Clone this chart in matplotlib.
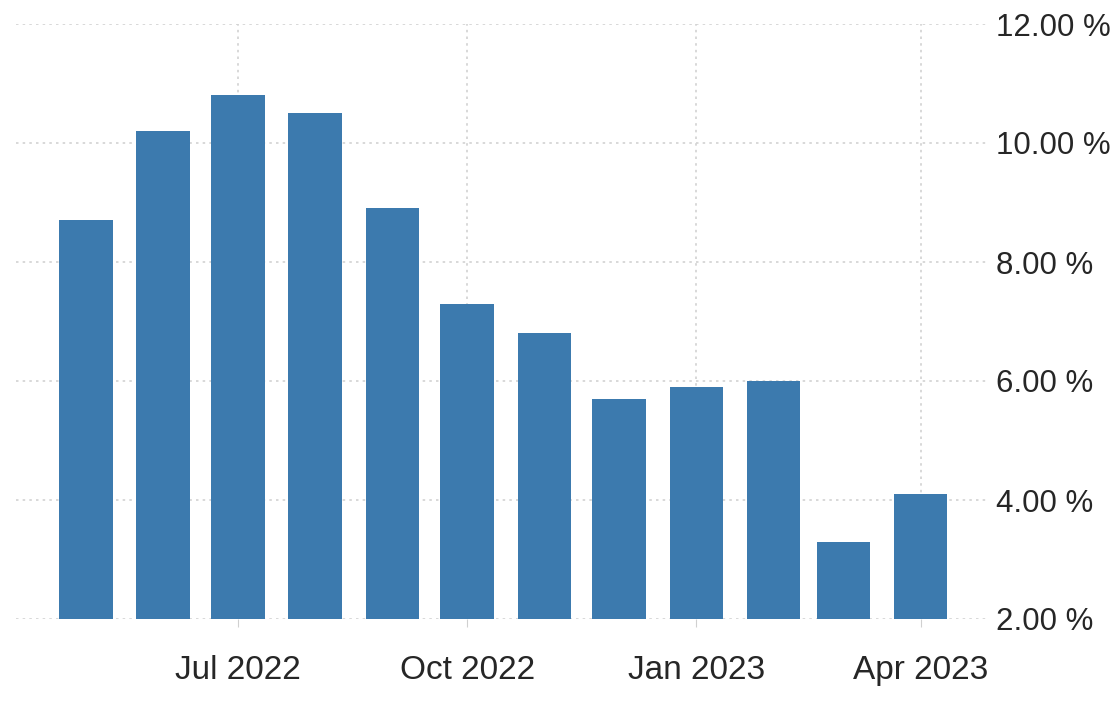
import matplotlib.pyplot as plt
import matplotlib.dates as mdates
import pandas as pd

# monthly inflation rate, %
months = ["2022-05", "2022-06", "2022-07", "2022-08", "2022-09", "2022-10",
          "2022-11", "2022-12", "2023-01", "2023-02", "2023-03", "2023-04"]
rates = [8.7, 10.2, 10.8, 10.5, 8.9, 7.3, 6.8, 5.7, 5.9, 6.0, 3.3, 4.1]
yticks = [2, 4, 6, 8, 10, 12]
xticks = ["2022-07-01", "2022-10-01", "2023-01-01", "2023-04-01"]

dates = pd.to_datetime(months)
base = 2.0

plt.rcParams['font.family'] = ['Liberation Sans', 'DejaVu Sans']

fig = plt.figure(figsize=(11.18, 7.1), dpi=100)
ax = fig.add_axes([16 / 1118, (710 - 619) / 710, (988 - 16) / 1118, (619 - 24) / 710])

ax.bar(dates, [r - base for r in rates], bottom=base, width=21.5,
       color='#3c7aae', zorder=3)

ax.set_ylim(2, 12)
ax.set_xlim(pd.Timestamp("2022-04-03"), pd.Timestamp("2023-04-28"))

ax.set_yticks(yticks)
ax.set_yticklabels(["%.2f %%" % v for v in yticks])
ax.yaxis.tick_right()
ax.tick_params(axis='y', length=0, pad=6, labelsize=22.5, labelcolor='#262626')

ax.set_xticks(pd.to_datetime(xticks))
ax.xaxis.set_major_formatter(mdates.DateFormatter('%b %Y'))
ax.tick_params(axis='x', length=6, color='#d0d0d0', pad=20,
               labelsize=24, labelcolor='#262626')

ax.grid(True, linestyle=(0, (1.5, 2.5)), color='#d2d2d2', linewidth=1.2, zorder=0)

for s in ax.spines.values():
    s.set_visible(False)

fig.savefig('out.png', dpi=100)
